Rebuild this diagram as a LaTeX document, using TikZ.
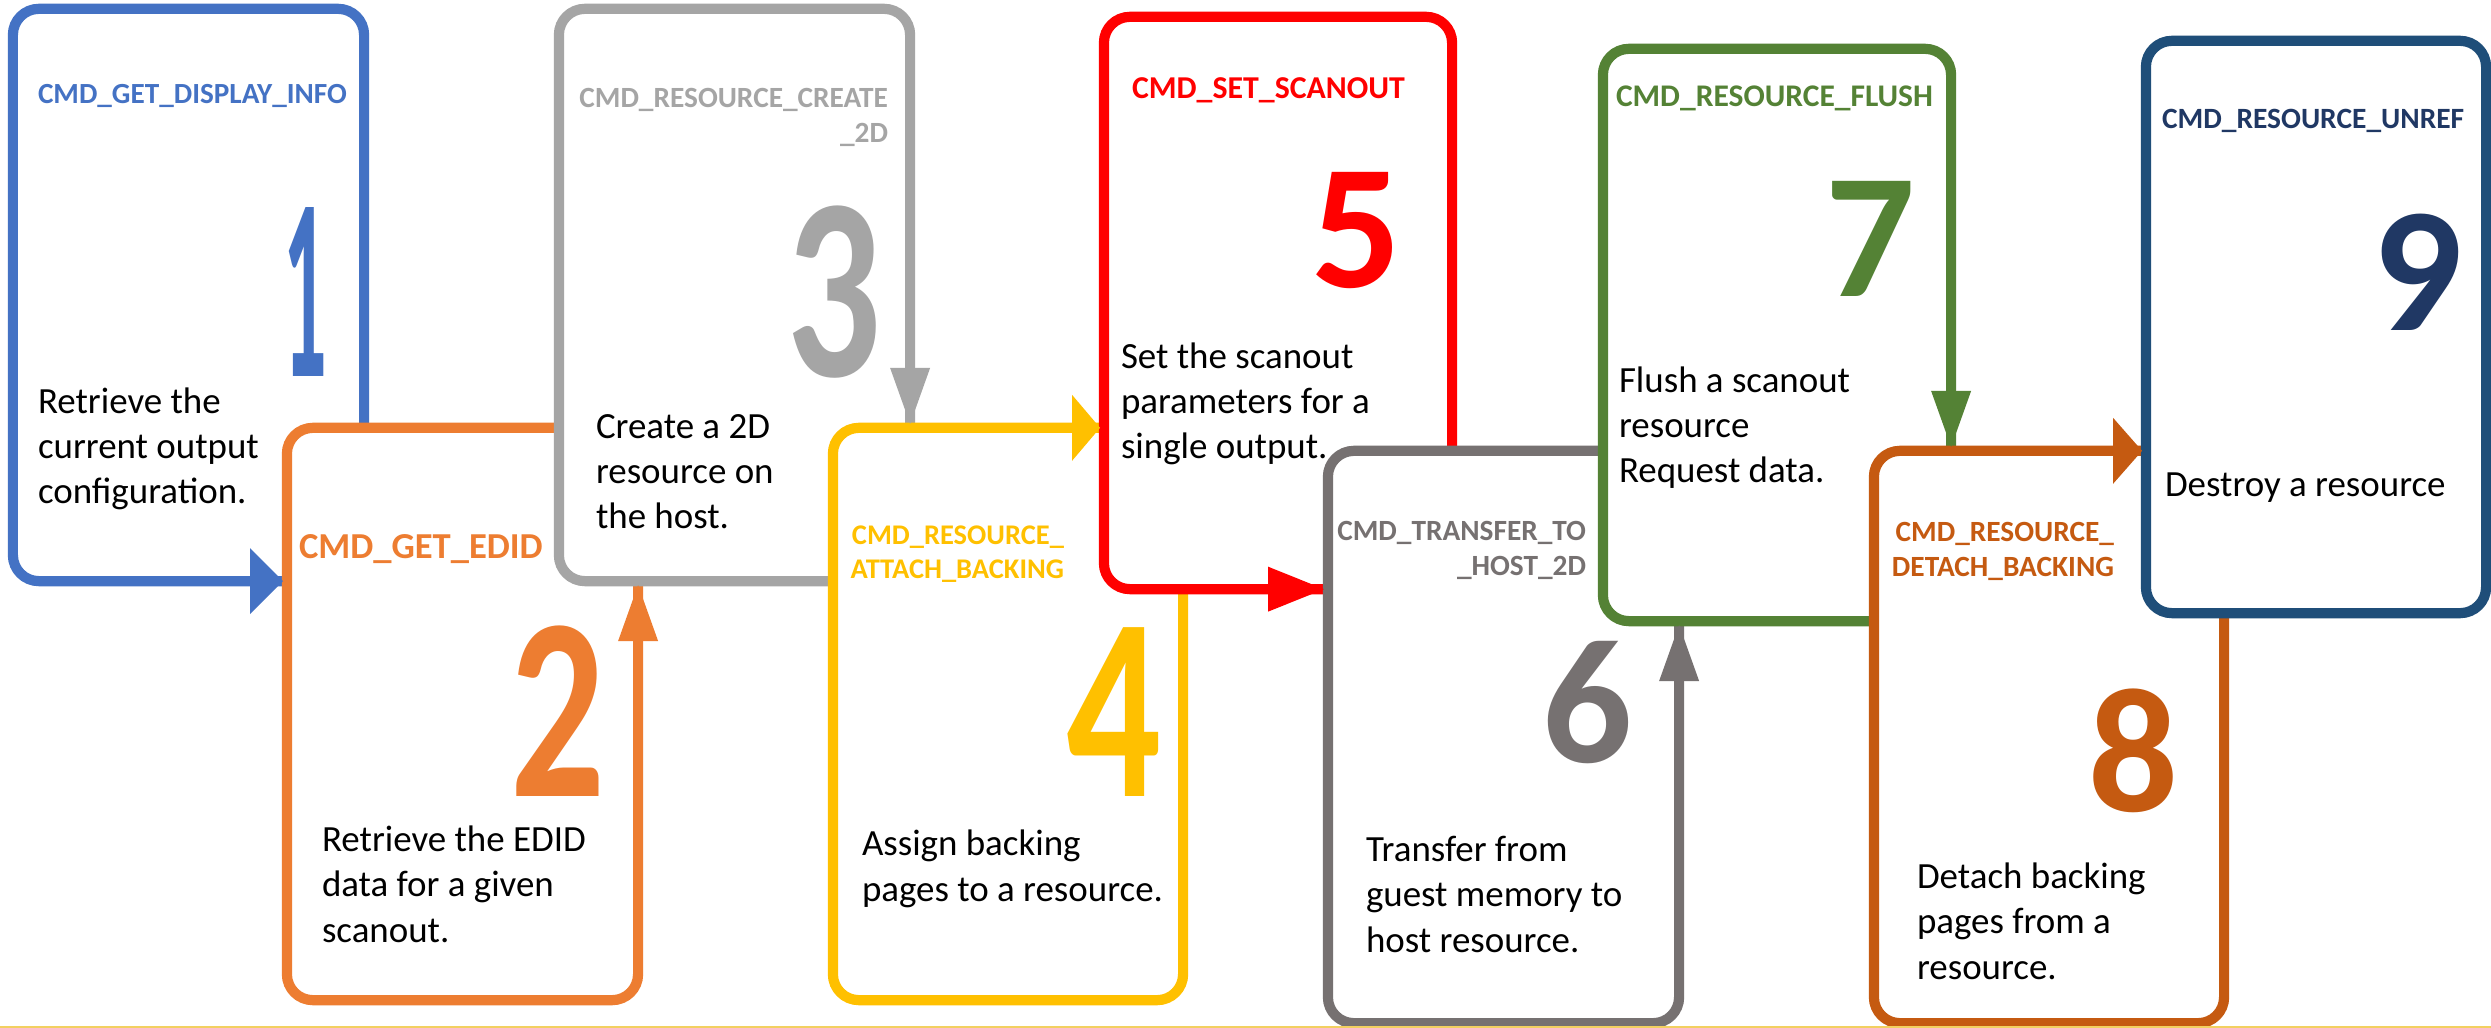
\documentclass[tikz,border=0pt]{standalone}
\usepackage{fontspec}
\setmainfont{Carlito}
\usetikzlibrary{arrows.meta}
\definecolor{cBlue}{HTML}{4472C4}
\definecolor{cOrange}{HTML}{ED7D31}
\definecolor{cGray}{HTML}{A5A5A5}
\definecolor{cGold}{HTML}{FFC000}
\definecolor{cRed}{HTML}{FF0000}
\definecolor{cDGray}{HTML}{767171}
\definecolor{cGreen}{HTML}{548235}
\definecolor{cDOrange}{HTML}{C55A11}
\definecolor{cNavy}{HTML}{1F4E79}
\definecolor{cNavyT}{HTML}{203864}
\definecolor{cLine}{HTML}{F2D060}
\newcommand{\bodyfnt}{\fontsize{10.5pt}{12.8pt}\selectfont}
\newcommand{\digfnt}{\fontsize{50.5pt}{50.5pt}\selectfont\bfseries}
\newcommand{\roughfnt}{\fontsize{74pt}{74pt}\selectfont\bfseries}
\tikzset{
  box/.style={draw=#1, fill=white, line width=2.9pt, rounded corners=0.26cm,
    inner sep=0pt, outer sep=0pt, minimum width=3.5cm, minimum height=5.72cm},
  body/.style={anchor=base west, align=left, font=\bodyfnt, inner sep=0pt, outer sep=0pt, text=black},
  ttlL/.style={anchor=base west, inner sep=0pt, outer sep=0pt, text=#1},
  ttlR/.style={anchor=base east, align=right, inner sep=0pt, outer sep=0pt, text=#1},
  digit/.style={anchor=base, inner sep=0pt, outer sep=0pt, text=#1},
  conn/.style={draw=#1, line width=2.9pt, shorten >=1.1pt},
  hhead/.style={-{Triangle[length=0.33cm, width=0.66cm, line width=0pt]}},
  vhead/.style={-{Triangle[length=0.56cm, width=0.40cm, line width=0pt]}},
}
\begin{document}
\begin{tikzpicture}[x=0.01cm, y=-0.01cm]
\useasboundingbox (0,0) rectangle (2491,1028);
\fill[white] (0,0) rectangle (2491,1028);

% multi-line nodes are placed by the baseline of their last line

% box 1
\node[box=cBlue, minimum width=3.51cm] (b1) at (188.5,295) {};
\node[ttlL=cBlue, font=\fontsize{8.31pt}{9.96pt}\selectfont\bfseries] (t1) at (38,104) {CMD\_GET\_DISPLAY\_INFO};
\node[digit=cBlue, font=\roughfnt] (d1) at (305,377) {\scalebox{0.33}[1]{1}};
\node[body] (x1) at (38,504) {Retrieve the\\current output\\configuration.};

% box 2
\node[box=cOrange, minimum width=3.51cm] (b2) at (462.5,714) {};
\node[ttlL=cOrange, font=\fontsize{10.4pt}{12pt}\selectfont\bfseries] (t2) at (299,559) {CMD\_GET\_EDID};
\node[digit=cOrange, font=\roughfnt] (d2) at (558,796) {\scalebox{0.72}[1]{2}};
\node[body] (x2) at (322,942) {Retrieve the EDID\\data for a given\\scanout.};

% box 3
\node[box=cGray, minimum width=3.51cm] (b3) at (734.5,295) {};
\node[ttlR=cGray, font=\fontsize{8.34pt}{9.96pt}\selectfont\bfseries] (t3) at (888,143) {CMD\_RESOURCE\_CREATE\\\_2D};
\node[digit=cGray, font=\roughfnt] (d3) at (834,377) {\scalebox{0.72}[1]{3}};
\node[body] (x3) at (596,529) {Create a 2D\\resource on\\the host.};

% box 4
\node[box=cGold] (b4) at (1008,714) {};
\node[ttlR=cGold, font=\fontsize{8.1pt}{9.67pt}\selectfont\bfseries] (t4) at (1064,579) {CMD\_RESOURCE\_\\ATTACH\_BACKING};
\node[digit=cGold, font=\roughfnt] (d4) at (1114,796) {\scalebox{0.72}[1]{4}};
\node[body] (x4) at (862,901) {Assign backing\\pages to a resource.};

% box 5
\node[box=cRed, minimum width=3.48cm] (b5) at (1278,303) {};
\node[ttlL=cRed, font=\fontsize{9.05pt}{10.8pt}\selectfont\bfseries] (t5) at (1132,99) {CMD\_SET\_SCANOUT};
\node[digit=cRed, font=\digfnt] (d5) at (1356,288) {5};
\node[body] (x5) at (1121,459) {Set the scanout\\parameters for a\\single output.};

% box 6
\node[box=cDGray, minimum width=3.51cm] (b6) at (1503.5,737) {};
\node[ttlR=cDGray, font=\fontsize{8.34pt}{9.96pt}\selectfont\bfseries] (t6) at (1586,576) {CMD\_TRANSFER\_TO\\\_HOST\_2D};
\node[digit=cDGray, font=\digfnt] (d6) at (1587,762) {6};
\node[body] (x6) at (1366,952) {Transfer from\\guest memory to\\host resource.};

% box 7
\node[box=cGreen, minimum width=3.48cm] (b7) at (1777,335) {};
\node[ttlL=cGreen, font=\fontsize{8.96pt}{10.8pt}\selectfont\bfseries] (t7) at (1616,107) {CMD\_RESOURCE\_FLUSH};
\node[digit=cGreen, font=\digfnt] (d7) at (1870,297) {7};
\node[body] (x7) at (1619,483) {Flush a scanout\\resource\\Request data.};

% box 8
\node[box=cDOrange] (b8) at (2049,737) {};
\node[ttlR=cDOrange, font=\fontsize{8.34pt}{9.96pt}\selectfont\bfseries] (t8) at (2114,577) {CMD\_RESOURCE\_\\DETACH\_BACKING};
\node[digit=cDOrange, font=\digfnt] (d8) at (2133,811) {8};
\node[body] (x8) at (1917,979) {Detach backing\\pages from a\\resource.};

% box 9
\node[box=cNavy, minimum width=3.40cm] (b9) at (2316,327) {};
\node[ttlL=cNavyT, font=\fontsize{8.37pt}{10pt}\selectfont\bfseries] (t9) at (2162,129) {CMD\_RESOURCE\_UNREF};
\node[digit=cNavyT, font=\digfnt] (d9) at (2417,331) {9};
\node[body] (x9) at (2165,497) {Destroy a resource};

% connectors
\draw[conn=cBlue, hhead] (b1.south) -- (b1.south -| b2.west);
\draw[conn=cOrange, vhead] (b2.east) -- (b2.east |- b3.south);
\draw[conn=cGray, vhead] (b3.east) -- (b3.east |- b4.north);
\draw[conn=cGold, -{Triangle[length=0.28cm, width=0.66cm, line width=0pt]}] (b4.north) -- (b4.north -| b5.west);
\draw[conn=cRed, -{Triangle[length=0.56cm, width=0.45cm, line width=0pt]}] (b5.south) -- (b5.south -| b6.west);
\draw[conn=cDGray, vhead] (b6.east) -- (b6.east |- b7.south);
\draw[conn=cGreen, vhead] (b7.east) -- (b7.east |- b8.north);
\draw[conn=cDOrange, -{Triangle[length=0.29cm, width=0.66cm, line width=0pt]}] (b8.north) -- (b8.north -| b9.west);

% thin line at the bottom
\coordinate (bl) at (0,1027);
\coordinate (br) at (2491,1027);
\draw[cLine, line width=0.6pt] (bl) -- (br);
\end{tikzpicture}
\end{document}
